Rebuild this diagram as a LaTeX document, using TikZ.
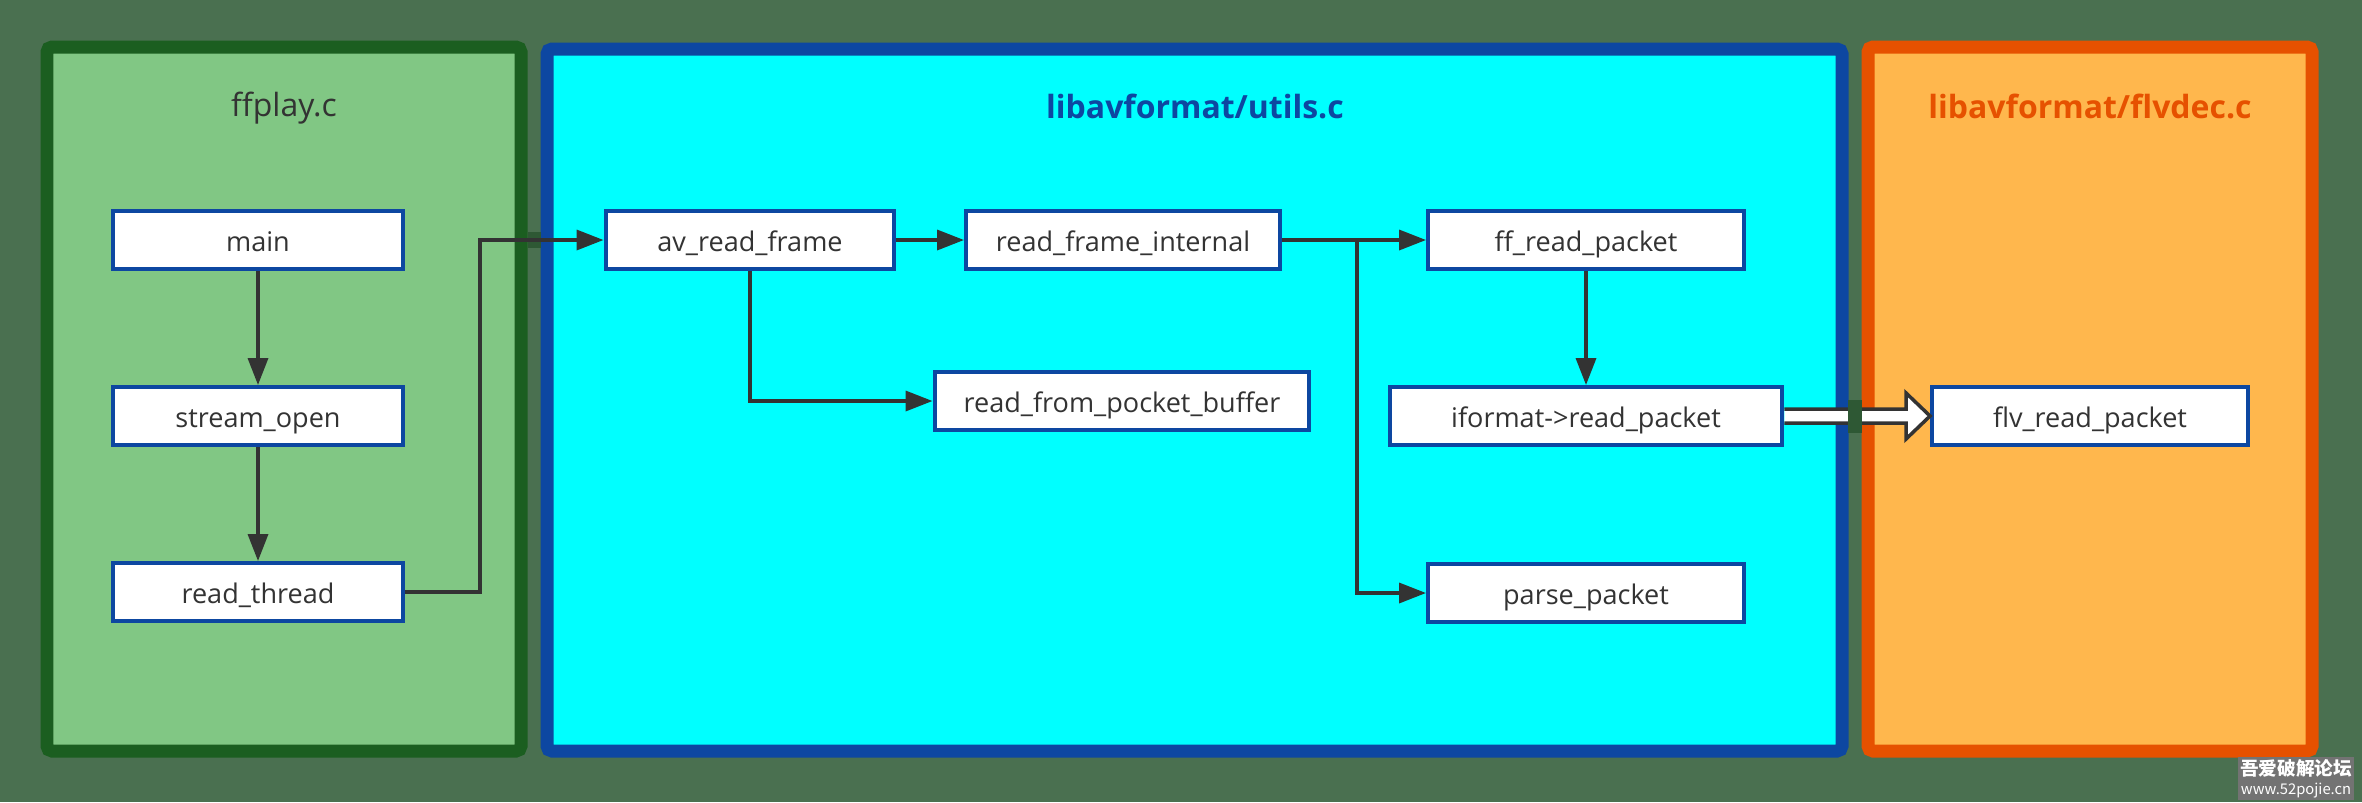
\documentclass[tikz,border=0pt]{standalone}
\usepackage{fontspec}
\setmainfont{Open Sans}
\newfontfamily\cjkfont{Noto Sans CJK SC}
\usetikzlibrary{arrows.meta,calc}
\definecolor{bgc}{RGB}{74,112,80}
\definecolor{gapdark}{RGB}{46,88,52}
\definecolor{grfill}{HTML}{81C784}
\definecolor{grline}{HTML}{1B5E20}
\definecolor{blline}{HTML}{0D47A1}
\definecolor{blfill}{HTML}{00FFFF}
\definecolor{orfill}{HTML}{FFB74D}
\definecolor{orline}{HTML}{E65100}
\definecolor{txt}{HTML}{333333}
\tikzset{
  panel/.style={line width=0.26cm, rounded corners=0.1cm},
  fn/.style={draw=blline, line width=0.08cm, fill=white, text=txt,
    minimum height=1.16cm, inner sep=0pt, text height=15pt, text depth=2.3pt,
    font=\fontsize{15.4}{18}\selectfont},
  ttl/.style={inner sep=0pt, font=\fontsize{18.2}{22}\selectfont},
  conn/.style={draw=txt, line width=0.07cm, -{Triangle[length=0.54cm,width=0.4cm]}},
  hollow/.style={draw=txt, line width=0.07cm, fill=white, line join=miter},
}
\begin{document}
\begin{tikzpicture}[x=0.02cm,y=-0.02cm]
\fill[bgc] (0,0) rectangle (2362,802);
\useasboundingbox (0,0) rectangle (2362,802);

% panels
\draw[panel, draw=grline, fill=grfill] (47,47) rectangle (521,751);
\draw[panel, draw=blline, fill=blfill] (547,49) rectangle (1842,751);
\draw[panel, draw=orline, fill=orfill] (1868,47) rectangle (2312,751);
\fill[gapdark] (528,232) rectangle (541,248);

% titles
\node[ttl, text=txt] (t1) at (284,108) {ffplay.c};
\node[ttl, text=blline, font=\fontsize{18.2}{22}\selectfont\bfseries] (t2) at (1195,106) {libavformat/utils.c};
\node[ttl, text=orline, font=\fontsize{18.2}{22}\selectfont\bfseries] (t3) at (2090,106) {libavformat/flvdec.c};

% function nodes
\node[fn, minimum width=5.8cm] (main) at (258,240) {main};
\node[fn, minimum width=5.8cm] (so) at (258,416) {stream\_open};
\node[fn, minimum width=5.8cm] (rt) at (258,592) {read\_thread};
\node[fn, minimum width=5.78cm] (arf) at (750,240) {av\_read\_frame};
\node[fn, minimum width=6.28cm] (rfi) at (1123,240) {read\_frame\_internal};
\node[fn, minimum width=7.5cm] (rfp) at (1122,401) {read\_from\_pocket\_buffer};
\node[fn, minimum width=6.32cm] (ffr) at (1586,240) {ff\_read\_packet};
\node[fn, minimum width=7.86cm] (ifr) at (1586,416) {iformat->read\_packet};
\node[fn, minimum width=6.32cm] (pp) at (1586,593) {parse\_packet};
\node[fn, minimum width=6.32cm] (flv) at (2090,416) {flv\_read\_packet};

% connectors
\draw[conn] (main) -- (so);
\draw[conn] (so) -- (rt);
\draw[conn] (rt.east) -- ($(rt.east)+(75,0)$) |- (arf.west);
\draw[conn] (arf) -- (rfi);
\draw[conn] (arf.south) |- (rfp.west);
\draw[conn] (rfi.east) -- (ffr.west);
\draw[conn] ($(rfi.east)+(75,0)$) |- (pp.west);
\draw[conn] (ffr) -- (ifr);
\draw[hollow] ($(ifr.east)+(0,-7)$) -- ($(flv.west)+(-24,-7)$) -- ($(flv.west)+(-24,-23)$)
  -- (flv.west) -- ($(flv.west)+(-24,23)$) -- ($(flv.west)+(-24,7)$) -- ($(ifr.east)+(0,7)$);
\fill[gapdark] (1848,400) rectangle (1862,433);

% watermark
\node[anchor=south east, fill=black!55, text=white, inner sep=1pt, align=center,
  font=\cjkfont] (wm) at (2354,800)
  {{\fontsize{10.6}{12}\selectfont\bfseries 吾爱破解论坛}\\[-1pt]{\fontsize{8.4}{10}\selectfont www.52pojie.cn}};
\end{tikzpicture}
\end{document}
